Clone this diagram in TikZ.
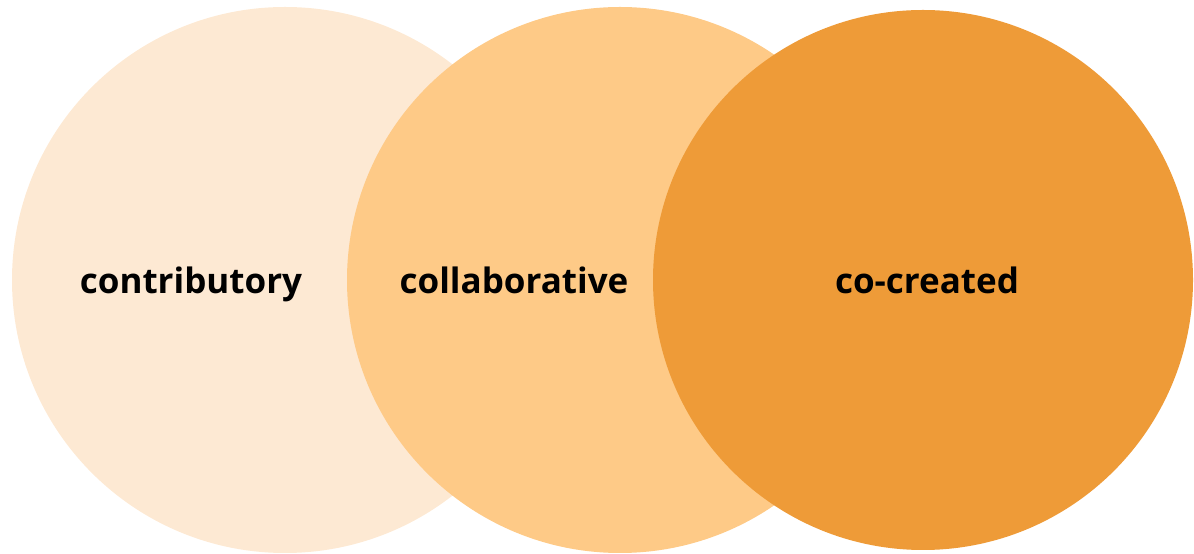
\documentclass[tikz,border=0pt]{standalone}
\usepackage{fontspec}
\setmainfont{Open Sans}

\definecolor{lightpeach}{HTML}{FDE9D3}
\definecolor{midpeach}{HTML}{FECA87}
\definecolor{darkorange}{HTML}{EE9B38}

\begin{document}
\begin{tikzpicture}[x=1pt, y=1pt]
        \useasboundingbox (0, 0) rectangle (1194, 554);
        \tikzset{disc/.style={circle, inner sep=0pt, draw=none}}
        \tikzset{word/.style={font=\fontsize{35}{40}\selectfont\bfseries, text=black, anchor=base, inner sep=0pt}}
        \node[disc, fill=lightpeach, minimum size=546pt] (contrib) at (285, 274) {};
        \node[disc, fill=midpeach, minimum size=546pt] (collab) at (620, 274) {};
        \node[disc, fill=darkorange, minimum size=540pt] (cocreate) at (923, 274) {};
        \node[word] (contribtext) at (191, 260) {contributory};
        \node[word] (collabtext) at (514, 260) {collaborative};
        \node[word] (cocreatetext) at (927, 260) {co-created};
\end{tikzpicture}
\end{document}
